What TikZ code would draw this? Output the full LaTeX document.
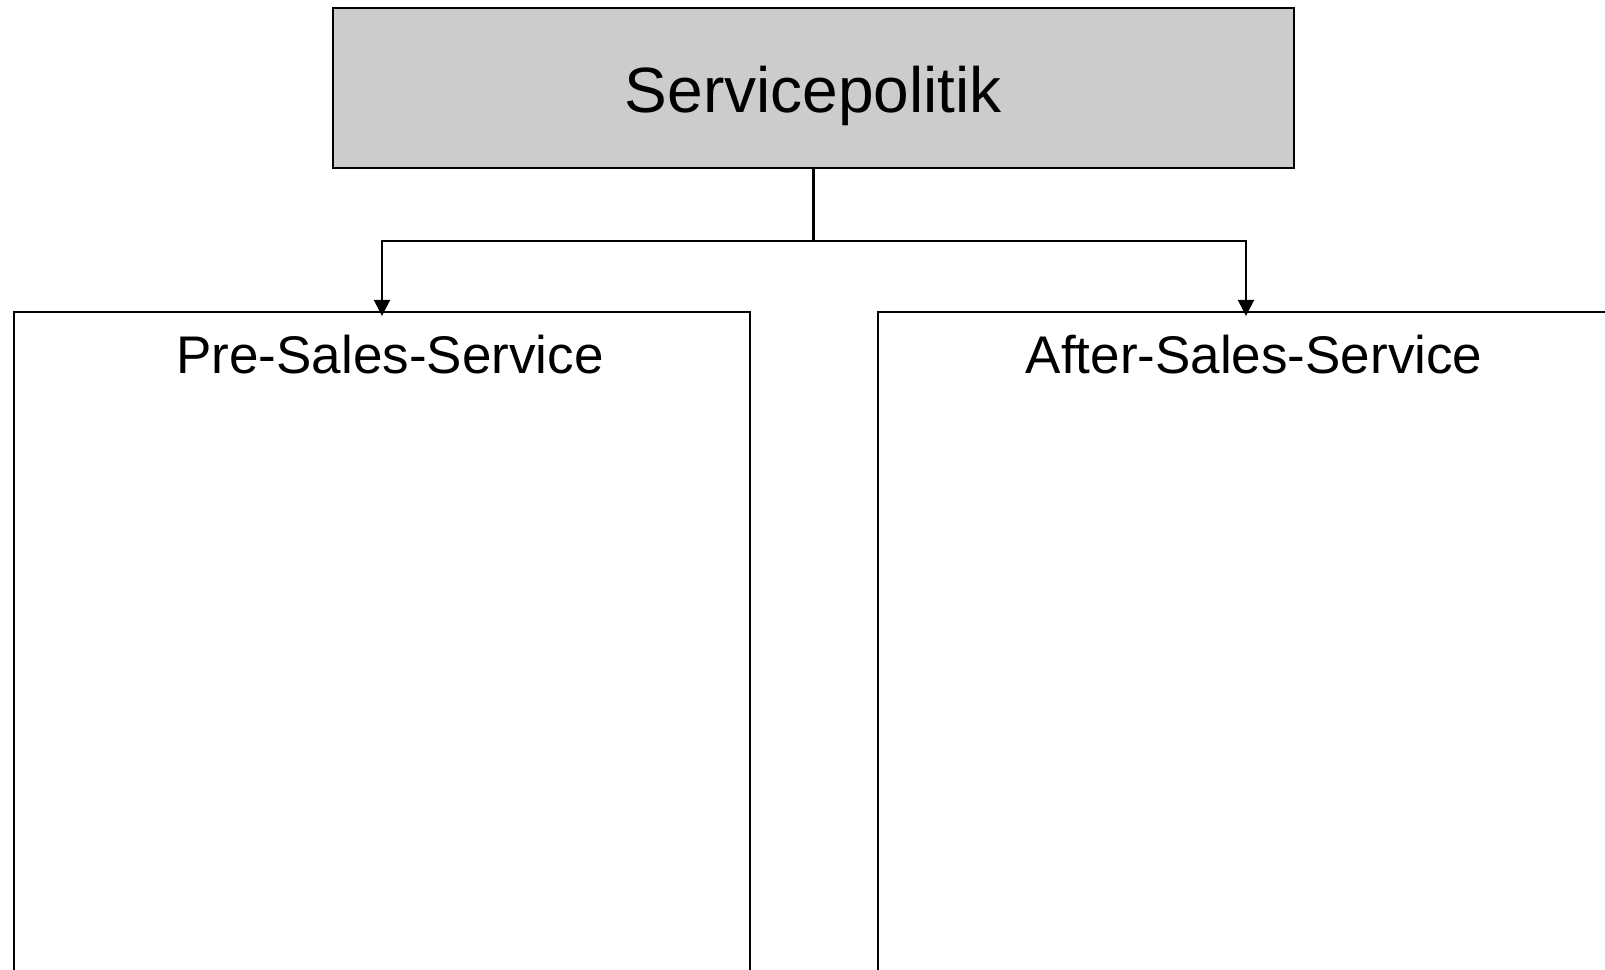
\documentclass[tikz,border=0pt]{standalone}
\usepackage{fontspec}
\setmainfont{Liberation Sans}
\usetikzlibrary{positioning, arrows.meta}

\begin{document}
\begin{tikzpicture}
	[x=0.5pt, y=-0.5pt,
	 bx/.style={draw=black, line width=1.1pt, rectangle, inner sep=0pt},
	 arr/.style={draw=black, line width=1.1pt, -{Triangle[width=8pt, length=8pt]}, shorten >= -2.5pt},
	 hd/.style={font=\fontsize{26.5}{30}\selectfont, anchor=base, xshift=4pt, yshift=-31.5pt}]
	\useasboundingbox (0,0) rectangle (1605,969);
	\clip (0,0) rectangle (1605,969);

	\node[bx, fill=black!20, minimum width=480.5pt, minimum height=80pt,
	      text height=24pt, text depth=0pt, font=\fontsize{32}{36}\selectfont] (pol) at (813.5,88) {Servicepolitik};
	\node[bx, minimum width=368pt, minimum height=349pt,
	      label={[hd]north:Pre-Sales-Service}] (pre) at (382,661) {};
	\node[bx, minimum width=368pt, minimum height=349pt,
	      label={[hd]north:After-Sales-Service}] (after) at (1246,661) {};

	\draw[line width=1.1pt] (pol.south) -- ++(0,72) coordinate (fork);
	\draw[arr] (fork) -| (pre.north);
	\draw[arr] (fork) -| (after.north);
\end{tikzpicture}
\end{document}
